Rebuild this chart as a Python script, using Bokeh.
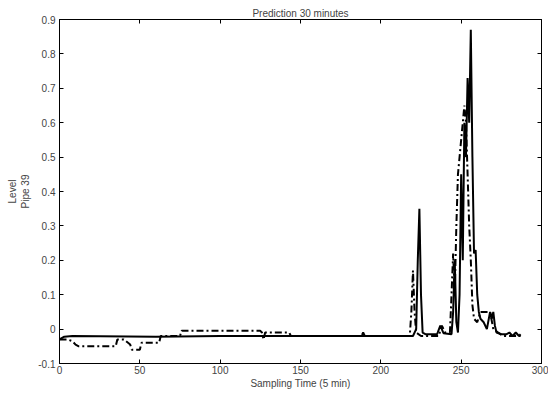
from bokeh.plotting import figure
from bokeh.embed import file_html
from bokeh.resources import INLINE
from bokeh.models import FixedTicker, CustomJSTickFormatter, LinearAxis, Range1d, CustomLabelingPolicy

# Solid series (measured level)
t_solid = [0, 3, 8, 60, 100, 150, 200, 220, 222, 223, 224, 225, 226, 228, 235, 237, 239, 244,
           245, 246, 247, 248, 249, 250, 251, 252, 253, 254, 255, 256, 257, 258, 259, 260, 261,
           262, 264, 266, 268, 269, 270, 271, 272, 275, 278, 280, 282, 284, 286, 287]
v_solid = [-0.03, -0.022, -0.02, -0.022, -0.02, -0.02, -0.02, -0.02, 0.0, 0.2, 0.35, 0.1, -0.01,
           -0.015, -0.015, 0.01, -0.012, -0.015,
           0.05, 0.2, 0.02, -0.01, 0.1, 0.45, 0.2, 0.6, 0.5, 0.73, 0.6, 0.87, 0.5, 0.22, 0.23, 0.1,
           0.05, 0.03, 0.02, 0.0, 0.05, 0.03, 0.05, 0.01, -0.01, -0.015, -0.015, -0.01, -0.02,
           -0.01, -0.02, -0.015]

# Dash-dot series (prediction 30 minutes)
t_pred = [0, 5, 8, 10, 12, 35, 36, 40, 44, 45, 50, 51, 62, 63, 75, 76, 125, 126, 127, 128, 143,
          144, 188, 189, 190, 218, 219, 220, 221, 222, 225, 236, 238, 240, 243, 244, 245, 246,
          247, 248, 249, 250, 251, 252, 253, 254, 255, 256, 257, 258, 260, 262, 268, 270, 273,
          276, 287]
v_pred = [-0.03, -0.03, -0.035, -0.045, -0.05, -0.05, -0.03, -0.03, -0.045, -0.06, -0.06, -0.04,
          -0.04, -0.02, -0.02, -0.005, -0.005, -0.01, -0.03, -0.01, -0.01,
          -0.02, -0.02, -0.01, -0.02, -0.02, 0.05, 0.17, 0.05, -0.01, -0.02, -0.02, 0.01, -0.01,
          -0.01, 0.1, 0.22, 0.1, 0.3, 0.45, 0.5, 0.55, 0.6, 0.65, 0.6, 0.45, 0.3, 0.2, 0.07, 0.03,
          0.02, 0.05, 0.05, 0.0, -0.01, -0.02, -0.02]

x_ticks = [0, 50, 100, 150, 200, 250, 300]
y_ticks = [-0.1, 0, 0.1, 0.2, 0.3, 0.4, 0.5, 0.6, 0.7, 0.8, 0.9]

FONT = "Liberation Sans"

p = figure(width=548, height=399, output_backend="svg", toolbar_location=None,
           x_range=Range1d(0, 300), y_range=Range1d(-0.1, 0.9),
           title="Prediction 30 minutes",
           min_border_left=59, min_border_right=7, min_border_top=19, min_border_bottom=36)

p.title.align = "center"
p.title.text_font = FONT
p.title.text_font_size = "10px"
p.title.text_font_style = "normal"
p.title.standoff = 2

p.grid.visible = False
p.outline_line_color = "black"
p.outline_line_width = 1

fmt = CustomJSTickFormatter(code="var s = tick.toFixed(1); return s.replace(/\\.0$/, '');")

for ax in p.xaxis:
    ax.ticker = FixedTicker(ticks=x_ticks)
    ax.axis_label = "Sampling Time (5 min)"
for ax in p.yaxis:
    ax.ticker = FixedTicker(ticks=y_ticks)
    ax.formatter = fmt
    ax.axis_label = "Level\nPipe 39"

for ax in list(p.xaxis) + list(p.yaxis):
    ax.major_tick_in = 4
    ax.major_tick_out = 0
    ax.minor_tick_line_color = None
    ax.axis_line_color = "black"
    ax.major_label_text_font = FONT
    ax.major_label_text_font_size = "10px"
    ax.axis_label_text_font = FONT
    ax.axis_label_text_font_size = "10px"
    ax.axis_label_text_font_style = "normal"
    ax.major_label_standoff = 2
    ax.axis_label_standoff = 1
for ax in p.yaxis:
    ax.major_label_standoff = 4
    ax.axis_label_standoff = 4

no_labels = CustomLabelingPolicy(code="for (const i of indices) { indices.unset(i) } return indices;")
top = LinearAxis(ticker=FixedTicker(ticks=x_ticks), major_label_policy=no_labels,
                 major_label_text_font_size="0px",
                 major_tick_in=4, major_tick_out=0, minor_tick_line_color=None,
                 major_label_standoff=0)
right = LinearAxis(ticker=FixedTicker(ticks=y_ticks), major_label_policy=no_labels,
                   major_label_text_font_size="0px",
                   major_tick_in=4, major_tick_out=0, minor_tick_line_color=None,
                   major_label_standoff=0)
p.add_layout(top, "above")
p.add_layout(right, "right")

p.line(t_pred, v_pred, line_color="black", line_width=2, line_dash="7 3 2 3")
p.line(t_solid, v_solid, line_color="black", line_width=2)

open("out.html", "w").write(file_html(p, INLINE))
